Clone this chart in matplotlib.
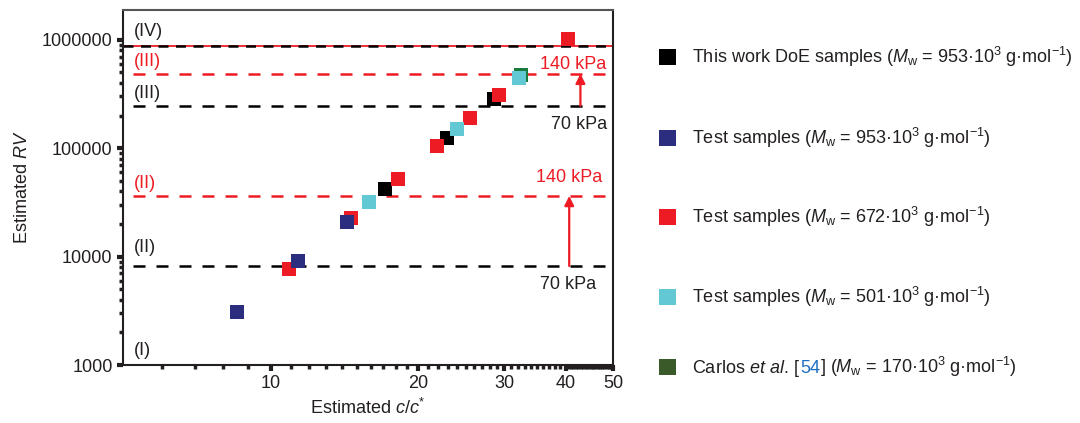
import matplotlib
matplotlib.use('Agg')
import matplotlib.pyplot as plt
from matplotlib.patches import Rectangle
from matplotlib.offsetbox import AnchoredOffsetbox, HPacker, TextArea, DrawingArea
from matplotlib.ticker import FixedLocator, FixedFormatter, LogLocator, NullFormatter

plt.rcParams['font.family'] = ['Liberation Sans', 'DejaVu Sans']
plt.rcParams['mathtext.fontset'] = 'custom'
plt.rcParams['mathtext.rm'] = 'Liberation Sans'
plt.rcParams['mathtext.it'] = 'Liberation Sans:italic'
plt.rcParams['mathtext.bf'] = 'Liberation Sans:bold'

TXT = '#231f20'
RED = '#ed1c24'
NAVY = '#2b2e7f'
CYAN = '#62c8d4'
GREEN = '#1b7a3e'
GREEN_LEG = '#3b5a2a'

# data (c/c*, RV)
doe_x = [17.1, 22.9, 28.6]
doe_y = [41900, 124000, 284000]
navy_x = [8.55, 11.4, 14.3]
navy_y = [3070, 9120, 20900]
red_x = [10.9, 14.6, 18.2, 21.9, 25.5, 29.2, 40.4]
red_y = [7700, 22900, 52500, 105000, 188000, 311000, 1020000]
cyan_x = [15.9, 24.0, 32.1]
cyan_y = [32200, 149000, 447000]
carlos_x = [32.5]
carlos_y = [476000]

# regime boundaries (lower, upper)
rv_70 = [8200, 246000]
rv_140 = [36300, 486000]
rv_iv = 881000
arrow_x = [40.7, 42.9]

fig = plt.figure(figsize=(10.8, 4.23), dpi=100)
ax = fig.add_axes([0.1139, 0.137, 0.4537, 0.8405])
ax.set_xscale('log')
ax.set_yscale('log')
ax.set_xlim(5, 50)
ax.set_ylim(1000, 1.9e6)

dash = (0, (4.8, 4.4))
x_start = 5.25
for y in rv_70:
    ax.hlines(y, x_start, 50, colors='black', linestyles=dash, lw=1.8, zorder=2)
for y in rv_140:
    ax.hlines(y, x_start, 50, colors=RED, linestyles=dash, lw=1.8, zorder=2)
ax.hlines(rv_iv, 5, 50, colors=RED, lw=1.3, zorder=2)
ax.hlines(rv_iv, 5, 50, colors='black', linestyles=(0, (4.0, 3.0)), lw=1.8, zorder=2)

ms = 9.7
ax.plot(doe_x, doe_y, 's', color='black', ms=ms, mew=0, zorder=3)
ax.plot(carlos_x, carlos_y, 's', color=GREEN, ms=ms, mew=0, zorder=3)
ax.plot(red_x, red_y, 's', color=RED, ms=ms, mew=0, zorder=4)
ax.plot(navy_x, navy_y, 's', color=NAVY, ms=ms, mew=0, zorder=5)
ax.plot(cyan_x, cyan_y, 's', color=CYAN, ms=ms, mew=0, zorder=6)

fs = 13
# regime labels
ax.annotate('(IV)', (x_start, rv_iv), xytext=(0, 4), textcoords='offset points',
            va='bottom', fontsize=fs, color=TXT)
ax.annotate('(III)', (x_start, rv_140[1]), xytext=(0, 3), textcoords='offset points',
            va='bottom', fontsize=fs, color=RED)
ax.annotate('(III)', (x_start, rv_70[1]), xytext=(0, 3), textcoords='offset points',
            va='bottom', fontsize=fs, color=TXT)
ax.annotate('(II)', (x_start, rv_140[0]), xytext=(0, 3), textcoords='offset points',
            va='bottom', fontsize=fs, color=RED)
ax.annotate('(II)', (x_start, rv_70[0]), xytext=(0, 7), textcoords='offset points',
            va='bottom', fontsize=fs, color=TXT)
ax.annotate('(I)', (x_start, 1000), xytext=(0, 4), textcoords='offset points',
            va='bottom', fontsize=fs, color=TXT)

# pressure arrows
for xa, y0, y1, up, dx in zip(arrow_x, rv_70, rv_140, (7, 0.5), (0, -5)):
    ax.annotate('', xy=(xa, y1), xytext=(xa, y0),
                arrowprops=dict(arrowstyle='-|>', color=RED, lw=1.6,
                                mutation_scale=14, shrinkA=0, shrinkB=0), zorder=5)
    ax.annotate('140 kPa', (xa, y1), xytext=(dx, up), textcoords='offset points',
                ha='center', va='bottom', fontsize=fs, color=RED)
    ax.annotate('70 kPa', (xa, y0), xytext=(-1, -7), textcoords='offset points',
                ha='center', va='top', fontsize=fs, color=TXT)

# axes styling
for s in ax.spines.values():
    s.set_color(TXT)
    s.set_linewidth(1.5)
ax.spines['top'].set_color('#555555')
ax.xaxis.set_major_locator(FixedLocator([10, 20, 30, 40, 50]))
ax.xaxis.set_major_formatter(FixedFormatter(['10', '20', '30', '40', '50']))
minor_x = [6, 7, 8, 9] + list(range(11, 20)) + list(range(21, 30)) + \
    list(range(31, 40)) + [40 + 0.5 * i for i in range(1, 20)]
ax.xaxis.set_minor_locator(FixedLocator(minor_x))
ax.xaxis.set_minor_formatter(NullFormatter())
ax.set_yticks([1000, 10000, 100000, 1000000])
ax.set_yticklabels(['1000', '10000', '100000', '1000000'])
ax.yaxis.set_minor_locator(LogLocator(base=10, subs=range(2, 10)))
ax.yaxis.set_minor_formatter(NullFormatter())
ax.tick_params(which='major', direction='out', length=4.5, width=3, colors=TXT,
               labelsize=fs, pad=3)
ax.tick_params(which='minor', direction='out', length=3, width=2.5, colors=TXT)

ax.set_xlabel(r'Estimated $c/c^{*}$', fontsize=fs, color=TXT, labelpad=4)
ax.set_ylabel(r'Estimated $RV$', fontsize=fs, color=TXT, labelpad=8)

# legend built row by row
mw = r'($M_\mathrm{w}$ = '
legend_rows = [
    (57, 'black', [('This work DoE samples ' + mw + r'953·10$^3$ g·mol$^{-1}$)', TXT)]),
    (138, NAVY, [('Test samples ' + mw + r'953·10$^3$ g·mol$^{-1}$)', TXT)]),
    (217, RED, [('Test samples ' + mw + r'672·10$^3$ g·mol$^{-1}$)', TXT)]),
    (297, CYAN, [('Test samples ' + mw + r'501·10$^3$ g·mol$^{-1}$)', TXT)]),
    (367, GREEN_LEG, [(r'Carlos $\mathit{et\ al}$. [', TXT), ('54', '#1f6fc0'),
                      ('] ' + mw + r'170·10$^3$ g·mol$^{-1}$)', TXT)]),
]
for ypx, col, parts in legend_rows:
    da = DrawingArea(12, 12, 0, 0)
    da.add_artist(Rectangle((0, 0), 12, 12, fc=col, ec='none'))
    texts = [TextArea(t, textprops=dict(color=c, fontsize=fs)) for t, c in parts]
    row = HPacker(children=[da, HPacker(children=texts, sep=0, pad=0, align='baseline')],
                  sep=12, pad=0, align='center')
    box = AnchoredOffsetbox(loc='center left', child=row, pad=0, borderpad=0,
                            frameon=False, bbox_to_anchor=(659 / 1080, 1 - ypx / 423),
                            bbox_transform=fig.transFigure)
    fig.add_artist(box)

fig.savefig('out.png', dpi=100)
